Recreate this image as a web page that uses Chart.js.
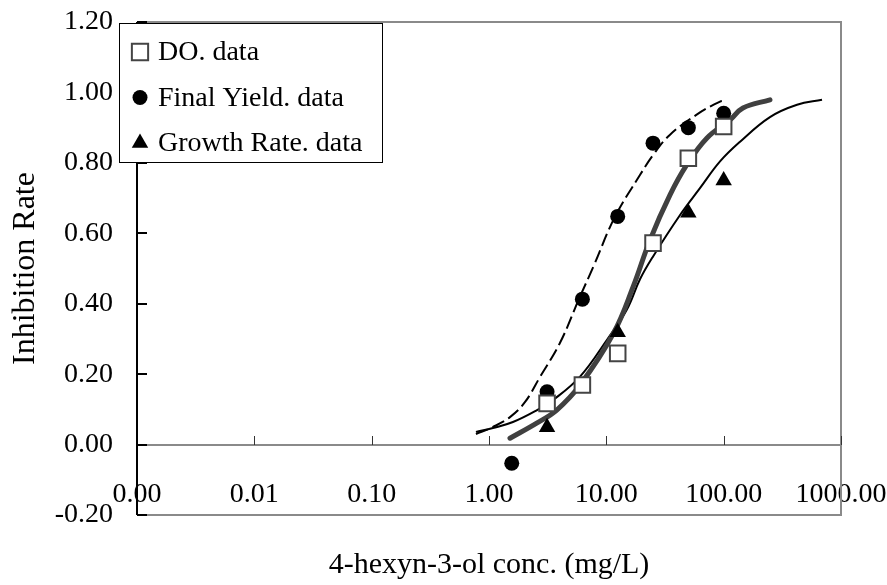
<!DOCTYPE html>
<html>
<head>
<meta charset="utf-8">
<title>Inhibition Rate vs 4-hexyn-3-ol conc.</title>
<script src="https://cdn.jsdelivr.net/npm/chart.js@4.4.1/dist/chart.umd.min.js"></script>
<style>
  html, body { margin: 0; padding: 0; background: #fff; }
  #chart { display: block; }
</style>
</head>
<body>
<canvas id="chart" width="887" height="585"></canvas>
<script>
// measured data (mg/L, inhibition rate)
const concDO = [3.125, 6.25, 12.5, 25, 50, 100];
const rateDO = [0.117, 0.169, 0.259, 0.572, 0.813, 0.903];

const concFY = [1.5625, 3.125, 6.25, 12.5, 25, 50, 100];
const rateFY = [-0.053, 0.150, 0.413, 0.648, 0.856, 0.900, 0.941];

const concGR = [3.125, 6.25, 12.5, 25, 50, 100];
const rateGR = [0.049, 0.162, 0.319, 0.565, 0.658, 0.750];

// fitted curves
const fitFYConc = [0.774, 1.08, 1.51, 2.03, 2.72, 4.03, 5.89, 7.75, 11.85, 19.4, 25.1, 34.9, 58.9, 93.1, 102.6];
const fitFYRate = [0.030, 0.050, 0.078, 0.121, 0.192, 0.289, 0.416, 0.505, 0.647, 0.766, 0.823, 0.880, 0.937, 0.974, 0.976];

const fitDOConc = [1.51, 2.55, 3.78, 5.97, 11.5, 17.0, 23.5, 34.9, 48.4, 71.8, 113.5, 146, 248];
const fitDORate = [0.018, 0.061, 0.098, 0.169, 0.316, 0.450, 0.580, 0.709, 0.794, 0.870, 0.922, 0.956, 0.979];

const fitGRConc = [0.774, 1.08, 1.60, 2.57, 3.53, 5.97, 10.1, 14.9, 19.4, 25.1, 42.5, 62.8, 93.1, 138, 248, 422, 689];
const fitGRRate = [0.036, 0.047, 0.064, 0.098, 0.127, 0.193, 0.297, 0.382, 0.470, 0.535, 0.652, 0.728, 0.804, 0.860, 0.930, 0.965, 0.979];

const xTickValues = [0.001, 0.01, 0.1, 1, 10, 100, 1000];
const xTickLabels = ['0.00', '0.01', '0.10', '1.00', '10.00', '100.00', '1000.00'];

const serif = '"Liberation Serif", "DejaVu Serif", "Times New Roman", serif';

function pts(xs, ys) {
  return xs.map((x, i) => ({ x: x, y: ys[i] }));
}

// gray frame, black y axis, zero line and inward ticks
const axisFrame = {
  id: 'axisFrame',
  beforeDatasetsDraw(chart) {
    const { ctx, chartArea: ca, scales } = chart;
    const y0 = Math.round(scales.y.getPixelForValue(0));
    ctx.save();
    ctx.strokeStyle = '#8a8a8a';
    ctx.lineWidth = 2;
    ctx.beginPath();
    ctx.moveTo(ca.left, ca.top);
    ctx.lineTo(ca.right, ca.top);
    ctx.lineTo(ca.right, ca.bottom);
    ctx.lineTo(ca.left, ca.bottom);
    ctx.moveTo(ca.left, y0);
    ctx.lineTo(ca.right, y0);
    ctx.stroke();

    ctx.strokeStyle = '#333';
    ctx.lineWidth = 1;
    ctx.beginPath();
    scales.x.ticks.forEach(t => {
      const px = Math.round(scales.x.getPixelForValue(t.value)) + 0.5;
      ctx.moveTo(px, y0);
      ctx.lineTo(px, y0 - 9);
    });
    ctx.stroke();

    ctx.strokeStyle = '#000';
    ctx.lineWidth = 2;
    ctx.beginPath();
    ctx.moveTo(ca.left, ca.top);
    ctx.lineTo(ca.left, ca.bottom);
    scales.y.ticks.forEach(t => {
      const py = Math.round(scales.y.getPixelForValue(t.value));
      ctx.moveTo(ca.left, py);
      ctx.lineTo(ca.left + 10, py);
    });
    ctx.stroke();
    ctx.restore();
  }
};

// boxed legend in the upper-left corner, overlapping the y axis
const legendBox = {
  id: 'legendBox',
  afterDraw(chart) {
    const { ctx, chartArea: ca } = chart;
    const x0 = ca.left - 18, y0 = ca.top + 1, w = 263, h = 139;
    const sizes = [11.5, 7.5, 9.5];
    ctx.save();
    ctx.fillStyle = '#fff';
    ctx.fillRect(x0, y0, w, h);
    ctx.strokeStyle = '#000';
    ctx.lineWidth = 1;
    ctx.strokeRect(x0 + 0.5, y0 + 0.5, w, h);
    ctx.font = '28px ' + serif;
    ctx.textBaseline = 'middle';
    for (let i = 0; i < 3; i++) {
      const ds = chart.data.datasets[i];
      const cy = y0 + 29 + i * 45.5;
      ctx.fillStyle = ds.backgroundColor;
      ctx.strokeStyle = ds.borderColor;
      ctx.lineWidth = ds.borderWidth;
      Chart.helpers.drawPoint(ctx, {
        pointStyle: ds.pointStyle, radius: sizes[i], rotation: 0, borderWidth: ds.borderWidth
      }, x0 + 21, cy);
      ctx.fillStyle = '#000';
      ctx.fillText(ds.label, x0 + 39, cy + 1);
    }
    ctx.restore();
  }
};

Chart.defaults.font.family = serif;
Chart.defaults.color = '#000';

new Chart(document.getElementById('chart'), {
  type: 'scatter',
  data: {
    datasets: [
      {
        label: 'DO. data',
        data: pts(concDO, rateDO),
        pointStyle: 'rect',
        pointRadius: 11,
        backgroundColor: '#fff',
        borderColor: '#444',
        borderWidth: 2
      },
      {
        label: 'Final Yield. data',
        data: pts(concFY, rateFY),
        pointStyle: 'circle',
        pointRadius: 7.5,
        backgroundColor: '#000',
        borderColor: '#000',
        borderWidth: 0
      },
      {
        label: 'Growth Rate. data',
        data: pts(concGR, rateGR),
        pointStyle: 'triangle',
        pointRadius: 9.5,
        backgroundColor: '#000',
        borderColor: '#000',
        borderWidth: 0
      },
      {
        label: 'Final Yield fit',
        data: pts(fitFYConc, fitFYRate),
        showLine: true,
        pointRadius: 0,
        borderColor: '#000',
        borderWidth: 2,
        borderDash: [13, 5],
        tension: 0.4
      },
      {
        label: 'DO fit',
        data: pts(fitDOConc, fitDORate),
        showLine: true,
        pointRadius: 0,
        borderColor: '#404040',
        borderWidth: 5,
        borderCapStyle: 'round',
        tension: 0.4
      },
      {
        label: 'Growth Rate fit',
        data: pts(fitGRConc, fitGRRate),
        showLine: true,
        pointRadius: 0,
        borderColor: '#000',
        borderWidth: 2,
        tension: 0.4
      }
    ]
  },
  options: {
    responsive: false,
    animation: false,
    layout: { padding: { left: 0, top: 22, right: 46, bottom: 0 } },
    plugins: {
      legend: { display: false },
      tooltip: { enabled: false }
    },
    scales: {
      x: {
        type: 'logarithmic',
        position: { y: 0 },
        min: 0.001,
        max: 1000,
        afterBuildTicks: scale => {
          scale.ticks = xTickValues.map(v => ({ value: v }));
        },
        afterFit: scale => {
          scale.paddingLeft = 0;
          scale.paddingRight = 0;
        },
        ticks: {
          autoSkip: false,
          maxRotation: 0,
          padding: 33,
          font: { size: 28 },
          callback: (value, index) => xTickLabels[index]
        },
        grid: { display: false, drawTicks: false },
        border: { display: false }
      },
      xTitle: {
        type: 'linear',
        position: 'bottom',
        ticks: { display: false },
        grid: { display: false, drawTicks: false },
        border: { display: false },
        title: {
          display: true,
          text: '4-hexyn-3-ol conc. (mg/L)',
          font: { size: 30 },
          padding: { top: 0, bottom: 2 }
        },
        afterFit: scale => {
          scale.height = 70;
          scale.paddingLeft = 0;
          scale.paddingRight = 0;
        }
      },
      y: {
        min: -0.2,
        max: 1.2,
        ticks: {
          stepSize: 0.2,
          padding: 24,
          font: { size: 28 },
          callback: value => (Math.abs(value) < 1e-9 ? 0 : value).toFixed(2)
        },
        grid: { display: false, drawTicks: false },
        border: { display: false },
        title: {
          display: true,
          text: 'Inhibition Rate',
          font: { size: 32 },
          padding: { top: 6, bottom: 0 }
        },
        afterFit: scale => {
          scale.width = 137;
          scale.paddingTop = 0;
          scale.paddingBottom = 0;
        }
      }
    }
  },
  plugins: [axisFrame, legendBox]
});
</script>
</body>
</html>
